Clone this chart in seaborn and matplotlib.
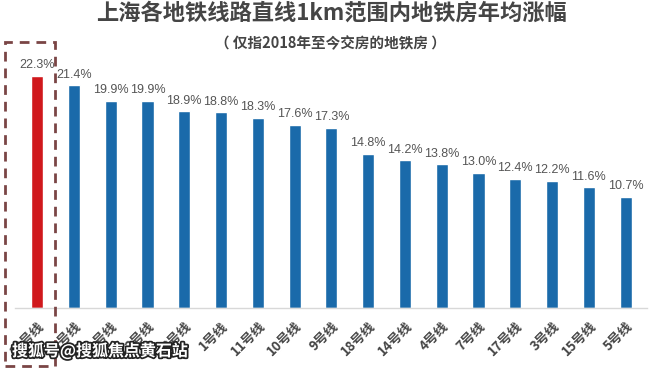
import matplotlib
matplotlib.use("Agg")
import matplotlib.pyplot as plt
import matplotlib.patheffects as pe
from matplotlib.patches import Rectangle
import seaborn as sns

# data (first five names are cut off in the source)
lines = ["16号线", "13号线", "12号线", "2号线", "8号线", "1号线", "11号线", "10号线", "9号线",
         "18号线", "14号线", "4号线", "7号线", "17号线", "3号线", "15号线", "5号线"]
growth = [22.3, 21.4, 19.9, 19.9, 18.9, 18.8, 18.3, 17.6, 17.3,
          14.8, 14.2, 13.8, 13.0, 12.4, 12.2, 11.6, 10.7]
value_labels = [f"{v:.1f}%" for v in growth]

TITLE = "上海各地铁线路直线1km范围内地铁房年均涨幅"
SUBTITLE = "（ 仅指2018年至今交房的地铁房 ）"
WATERMARK = "搜狐号@搜狐焦点黄石站"

RED = "#d0181c"
BLUE = "#1a6aaa"
TEXT = "#454545"

sns.set_style("white")
plt.rcParams['font.family'] = ['Noto Sans CJK SC', 'DejaVu Sans']

fig = plt.figure(figsize=(6.6, 3.69), dpi=100)
ax = fig.add_axes([15 / 660, 61 / 369, 632 / 660, 260 / 369])

colors = [RED] + [BLUE] * (len(lines) - 1)
sns.barplot(x=lines, y=growth, hue=lines, palette=colors, legend=False,
            width=0.33, saturation=1, ax=ax)

ax.set_xlim(-0.6, len(lines) - 1 + 0.58)
ax.set_ylim(0, 25)
ax.set_yticks([])
ax.set_ylabel("")
for s in ["top", "left", "right"]:
    ax.spines[s].set_visible(False)
ax.spines["bottom"].set_color("#d8d8d8")
ax.spines["bottom"].set_linewidth(1)

for i, (v, lab) in enumerate(zip(growth, value_labels)):
    ax.text(i, v + 0.45, lab, ha="center", va="bottom", fontsize=9, color="#555555",
            family=['Liberation Sans Narrow', 'Liberation Sans', 'DejaVu Sans'])

ax.set_xticks(range(len(lines)))
ax.set_xticklabels(lines, rotation=45, ha="right", rotation_mode="anchor",
                   fontsize=9.5, fontweight="bold", color=TEXT)
ax.tick_params(axis="x", length=0, pad=8)

# dashed highlight box around the first bar
box = Rectangle((5 / 660, 3 / 369), 50 / 660, 324 / 369, transform=fig.transFigure,
                fill=False, edgecolor="#7a4545", linestyle=(0, (3.5, 2.5)), linewidth=2)
fig.patches.append(box)

fig.text(331 / 660, 1 - 13 / 369, TITLE, ha="center", va="center",
         fontsize=16, fontweight="bold", color=TEXT)
fig.text(330 / 660, 1 - 43 / 369, SUBTITLE, ha="center", va="center",
         fontsize=10.5, fontweight="bold", color=TEXT)

fig.text(12 / 660, 1 - 351 / 369, WATERMARK, ha="left", va="center",
         fontsize=11.5, fontweight="bold", color="white",
         path_effects=[pe.withStroke(linewidth=2.5, foreground="#222222")])

fig.savefig("out.png", dpi=100)
